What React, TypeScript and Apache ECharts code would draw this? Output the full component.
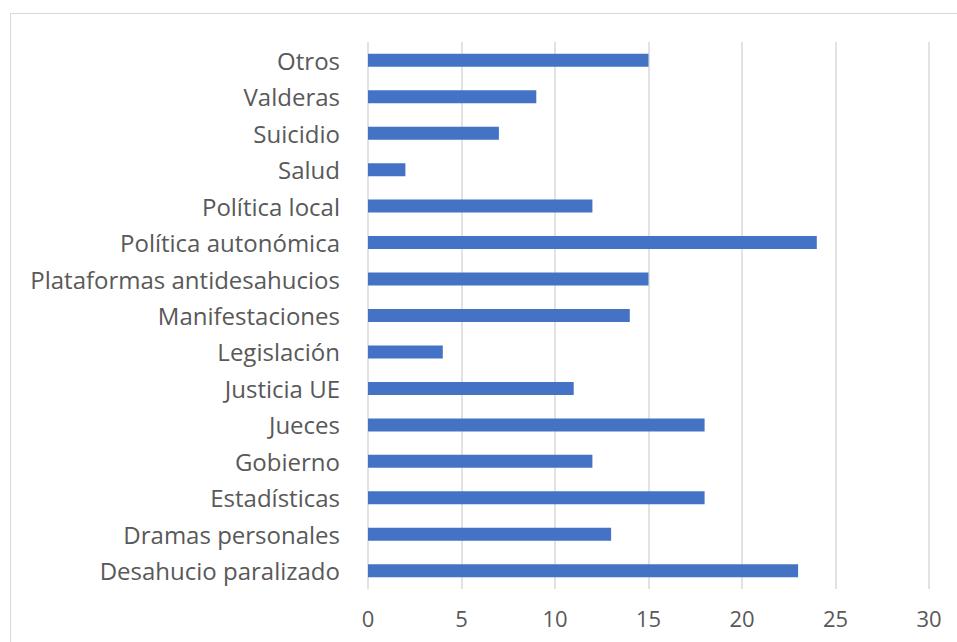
import React, { useEffect, useRef } from "react";
import * as echarts from "echarts";

const categories = [
  "Desahucio paralizado",
  "Dramas personales",
  "Estadísticas",
  "Gobierno",
  "Jueces",
  "Justicia UE",
  "Legislación",
  "Manifestaciones",
  "Plataformas antidesahucios",
  "Política autonómica",
  "Política local",
  "Salud",
  "Suicidio",
  "Valderas",
  "Otros",
];
const values = [23, 13, 18, 12, 18, 11, 4, 14, 15, 24, 12, 2, 7, 9, 15];
const axisMin = 0;
const axisMax = 30;
const axisInterval = 5;

const FONT = "Open Sans";

export default function App() {
  const ref = useRef<HTMLDivElement>(null);
  useEffect(() => {
    if (!ref.current) return;
    const chart = echarts.init(ref.current, undefined, { renderer: "svg" });
    chart.setOption({
      animation: false,
      backgroundColor: "#ffffff",
      graphic: [
        {
          type: "rect",
          shape: { x: 10.5, y: 13.5, width: 1000, height: 700 },
          style: { fill: "none", stroke: "#d9d9d9", lineWidth: 1 },
          silent: true,
        },
      ],
      grid: { left: 368, right: 28, top: 42, bottom: 53, containLabel: false },
      xAxis: {
        type: "value",
        min: axisMin,
        max: axisMax,
        interval: axisInterval,
        axisLine: { show: false },
        axisTick: { show: false },
        splitLine: { show: true, lineStyle: { color: "#d9d9d9", width: 1.5 } },
        axisLabel: {
          color: "#595959",
          fontFamily: FONT,
          fontSize: 22,
          margin: 18,
        },
      },
      yAxis: {
        type: "category",
        data: categories,
        axisLine: { show: false },
        axisTick: { show: false },
        splitLine: { show: false },
        axisLabel: {
          color: "#595959",
          fontFamily: FONT,
          fontSize: 24,
          margin: 28,
        },
      },
      series: [
        {
          type: "bar",
          data: values,
          barWidth: 13,
          itemStyle: { color: "#4472c4" },
        },
      ],
    });
    return () => chart.dispose();
  }, []);
  return (
    <div
      ref={ref}
      style={{ position: "fixed", left: 0, top: 0, width: 957, height: 642 }}
    />
  );
}
